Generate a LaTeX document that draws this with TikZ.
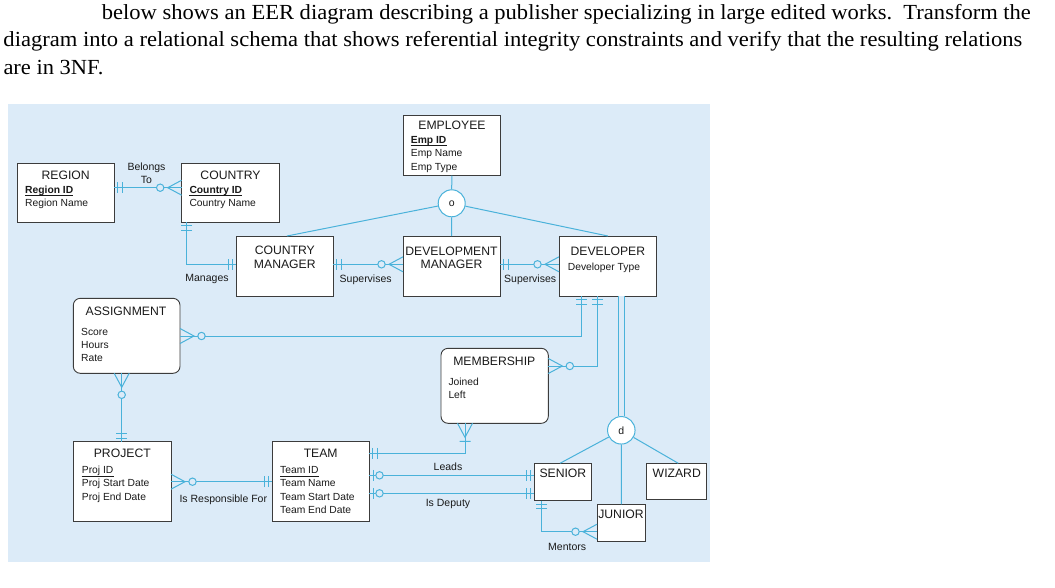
\documentclass[tikz,border=0pt]{standalone}
\usepackage{graphicx}
\usepackage{fontspec}
\setmainfont{Liberation Serif}
\newfontfamily\diafont{Liberation Sans}
\usetikzlibrary{calc}
\definecolor{bgblue}{HTML}{DCEBF8}
\definecolor{lnblue}{HTML}{4AB2DA}
\definecolor{boxline}{HTML}{3C3C3C}
\definecolor{txtc}{HTML}{1A1A1A}
\tikzset{
  ent/.style={draw=boxline, fill=white, line width=0.9pt, inner sep=0pt, outer sep=0pt, anchor=north west},
  rent/.style={ent, rounded corners=7pt},
  etitle/.style={font=\diafont\fontsize{12.2}{14}\selectfont, text=txtc, inner sep=0pt, anchor=base},
  attr/.style={font=\diafont\fontsize{10.3}{12}\selectfont, text=txtc, inner sep=0pt, anchor=base west},
  keyattr/.style={attr, font=\diafont\bfseries\fontsize{10.3}{12}\selectfont},
  rlabel/.style={font=\diafont\fontsize{10.5}{12}\selectfont, text=txtc, inner sep=0pt, anchor=base},
  conn/.style={draw=lnblue, line width=1pt},
  uline/.style={draw=txtc, line width=0.7pt},
  isa/.style={circle, draw=lnblue, line width=1pt, fill=white, inner sep=0pt, minimum size=27pt, font=\diafont\fontsize{10.5}{12}\selectfont, text=txtc},
  hdr/.style={font=\fontsize{21.5}{26}\selectfont, inner sep=0pt, anchor=base west, text=black},
  mone/.pic={\draw[conn] (3.5,-5.5) -- (3.5,5.5) (8,-5.5) -- (8,5.5);},
  omany/.pic={\draw[conn] (0,-7.5) -- (14,0) -- (0,7.5); \draw[conn, fill=bgblue] (21.5,0) circle[radius=3.7pt];},
  oone/.pic={\draw[conn] (4,-5.5) -- (4,5.5); \draw[conn, fill=bgblue] (10.5,0) circle[radius=3.7pt];},
  mmany/.pic={\draw[conn] (0,-7.5) -- (14,0) -- (0,7.5) (18,-5.5) -- (18,5.5);},
}
\begin{document}
\begin{tikzpicture}[x=1pt, y=-1pt]
\useasboundingbox (0,0) rectangle (1055,587);
\fill[white] (0,0) rectangle (1055,587);
\fill[bgblue] (8,104) rectangle (710,562);

% header text
\node[hdr] (h1) at (101.7,19.3) {\resizebox{929pt}{\height}{below shows an EER diagram describing a publisher specializing in large edited works.\hspace{0.5em}Transform the}};
\node[hdr] (h2) at (3.3,46.7) {\resizebox{1018.7pt}{\height}{diagram into a relational schema that shows referential integrity constraints and verify that the resulting relations}};
\node[hdr] (h3) at (3.3,74) {\resizebox{100pt}{\height}{are in 3NF.}};

% entities
\node[ent, minimum width=97.3pt, minimum height=59.3pt] (region) at (17,163) {};
\node[ent, minimum width=97.6pt, minimum height=59.3pt] (country) at (181.7,163) {};
\node[ent, minimum width=97pt, minimum height=60pt] (cm) at (236.3,236) {};
\node[ent, minimum width=97.7pt, minimum height=60pt] (employee) at (403,115.7) {};
\node[ent, minimum width=97pt, minimum height=60pt] (dm) at (403,236) {};
\node[ent, minimum width=97.7pt, minimum height=60pt] (dev) at (559,236) {};
\node[rent, minimum width=106.7pt, minimum height=75pt] (asg) at (73.3,298.3) {};
\node[rent, minimum width=107.3pt, minimum height=75pt] (mem) at (441,348.3) {};
\node[ent, minimum width=97.7pt, minimum height=79.3pt] (project) at (73.3,441.7) {};
\node[ent, minimum width=96.7pt, minimum height=79.3pt] (team) at (272.3,441.7) {};
\node[ent, minimum width=57.4pt, minimum height=37.4pt] (senior) at (534.3,463.3) {};
\node[ent, minimum width=59.3pt, minimum height=36pt] (wizard) at (646.7,463.3) {};
\node[ent, minimum width=48.7pt, minimum height=37.4pt] (junior) at (597,504.3) {};

\node[isa] (ocirc) at (451.7,203.3) {o};
\node[isa, minimum size=27.5pt] (dcirc) at (621.3,430.3) {d};

% titles
\node[etitle] (regionT) at (65.7,179.3) {REGION};
\node[etitle] (countryT) at (230.5,179.3) {COUNTRY};
\node[etitle] (cmT1) at (284.8,254) {COUNTRY};
\node[etitle] (cmT2) at (284.8,268) {MANAGER};
\node[etitle] (employeeT) at (452,129.5) {EMPLOYEE};
\node[etitle] (dmT1) at (451.5,255) {DEVELOPMENT};
\node[etitle] (dmT2) at (451.5,268) {MANAGER};
\node[etitle] (devT) at (607.9,255) {DEVELOPER};
\node[etitle] (asgT) at (126,315) {ASSIGNMENT};
\node[etitle] (memT) at (494.3,365.7) {MEMBERSHIP};
\node[etitle] (projectT) at (122.3,457.7) {PROJECT};
\node[etitle] (teamT) at (320.7,457.7) {TEAM};
\node[etitle, anchor=base west] (seniorT) at (539.3,477.3) {SENIOR};
\node[etitle] (wizardT) at (676.8,477.3) {WIZARD};
\node[etitle] (juniorT) at (621,518.3) {JUNIOR};

% attributes
\node[keyattr] (regionK) at (25,193) {Region ID};
\node[attr] (regionA) at (25,206) {Region Name};
\node[keyattr] (countryK) at (189.3,193) {Country ID};
\node[attr] (countryA) at (189.3,206) {Country Name};
\node[keyattr] (empK) at (410.7,143) {Emp ID};
\node[attr] (empA1) at (410.7,156.7) {Emp Name};
\node[attr] (empA2) at (410.7,170) {Emp Type};
\node[attr] (devA) at (567.7,270.7) {Developer Type};
\node[attr] (asgA1) at (81,335) {Score};
\node[attr] (asgA2) at (81,348.3) {Hours};
\node[attr] (asgA3) at (81,361) {Rate};
\node[attr] (memA1) at (448.3,385) {Joined};
\node[attr] (memA2) at (448.3,398.3) {Left};
\node[attr] (projK) at (81.7,473.3) {Proj ID};
\node[attr] (projA1) at (81.7,486.7) {Proj Start Date};
\node[attr] (projA2) at (81.7,500) {Proj End Date};
\node[attr] (teamK) at (280,473.3) {Team ID};
\node[attr] (teamA1) at (280,486.7) {Team Name};
\node[attr] (teamA2) at (280,500) {Team Start Date};
\node[attr] (teamA3) at (280,513.3) {Team End Date};

\foreach \k in {regionK,countryK,empK,projK,teamK}{
  \draw[uline] ($(\k.base west)+(0,2.8)$) -- ($(\k.base east)+(0,2.8)$);
}

% relationship labels
\node[rlabel] (lbBel1) at (146.5,170) {Belongs};
\node[rlabel] (lbBel2) at (146.3,183.3) {To};
\node[rlabel] (lbMan) at (207,281) {Manages};
\node[rlabel] (lbSup1) at (365.7,282.7) {Supervises};
\node[rlabel] (lbSup2) at (530.2,282.7) {Supervises};
\node[rlabel] (lbResp) at (223.3,502.7) {Is Responsible For};
\node[rlabel] (lbLeads) at (448,470.7) {Leads};
\node[rlabel] (lbDep) at (448,506) {Is Deputy};
\node[rlabel] (lbMent) at (567.2,550) {Mentors};

% helper coordinates
\coordinate (yBT) at (0,187.7);
\coordinate (xMan) at (186.7,0);
\coordinate (ySup) at (0,264.3);
\coordinate (cmTop) at (287,236);
\coordinate (xAD) at (581.7,0);
\coordinate (yAD) at (0,336);
\coordinate (xMD) at (597.7,0);
\coordinate (yMD) at (0,366);
\coordinate (xPA) at (121.7,0);
\coordinate (yPT) at (0,481.7);
\coordinate (yTM) at (0,453.3);
\coordinate (xTM) at (465,0);
\coordinate (yL) at (0,475.3);
\coordinate (yD) at (0,493.3);
\coordinate (xM) at (541.7,0);
\coordinate (yM) at (0,531.7);
\coordinate (senTop) at (560,463.3);
\coordinate (wizTop) at (678.3,463.3);

% connectors
\draw[conn] (region.east |- yBT) -- (country.west |- yBT);
\pic at (region.east |- yBT) {mone};
\pic[rotate=180] at (country.west |- yBT) {omany};

\draw[conn] (country.south -| xMan) |- (cm.west |- ySup);
\pic[rotate=-90] at (country.south -| xMan) {mone};
\pic[rotate=180] at (cm.west |- ySup) {mone};

\draw[conn] (cm.east |- ySup) -- (dm.west |- ySup);
\pic at (cm.east |- ySup) {mone};
\pic[rotate=180] at (dm.west |- ySup) {omany};

\draw[conn] (dm.east |- ySup) -- (dev.west |- ySup);
\pic at (dm.east |- ySup) {mone};
\pic[rotate=180] at (dev.west |- ySup) {omany};

\draw[conn] (employee.south) -- (ocirc.north);
\draw[conn] (ocirc) -- (cmTop);
\draw[conn] (ocirc) -- (dm.north);
\draw[conn] (ocirc) -- (dev.north);

\draw[conn] (asg.east |- yAD) -| (dev.south -| xAD);
\pic at (asg.east |- yAD) {omany};
\pic[rotate=-90] at (dev.south -| xAD) {mone};

\draw[conn] (mem.east |- yMD) -| (dev.south -| xMD);
\pic at (mem.east |- yMD) {omany};
\pic[rotate=-90] at (dev.south -| xMD) {mone};

\draw[conn, double=bgblue, double distance=5pt] (dev.south -| dcirc) -- (dcirc.north);
\draw[conn] (dcirc) -- (senTop);
\draw[conn] (dcirc) -- (junior.north);
\draw[conn] (dcirc) -- (wizTop);

\draw[conn] (asg.south -| xPA) -- (project.north -| xPA);
\pic[rotate=-90] at (asg.south -| xPA) {omany};
\pic[rotate=90] at (project.north -| xPA) {mone};

\draw[conn] (project.east |- yPT) -- (team.west |- yPT);
\pic at (project.east |- yPT) {omany};
\pic[rotate=180] at (team.west |- yPT) {mone};

\draw[conn] (team.east |- yTM) -| (mem.south -| xTM);
\pic at (team.east |- yTM) {mone};
\pic[rotate=-90] at (mem.south -| xTM) {mmany};

\draw[conn] (team.east |- yL) -- (senior.west |- yL);
\pic at (team.east |- yL) {oone};
\pic[rotate=180] at (senior.west |- yL) {mone};

\draw[conn] (team.east |- yD) -- (senior.west |- yD);
\pic at (team.east |- yD) {oone};
\pic[rotate=180] at (senior.west |- yD) {mone};

\draw[conn] (senior.south -| xM) |- (junior.west |- yM);
\pic[rotate=-90] at (senior.south -| xM) {mone};
\pic[rotate=180] at (junior.west |- yM) {omany};
\end{tikzpicture}
\end{document}
